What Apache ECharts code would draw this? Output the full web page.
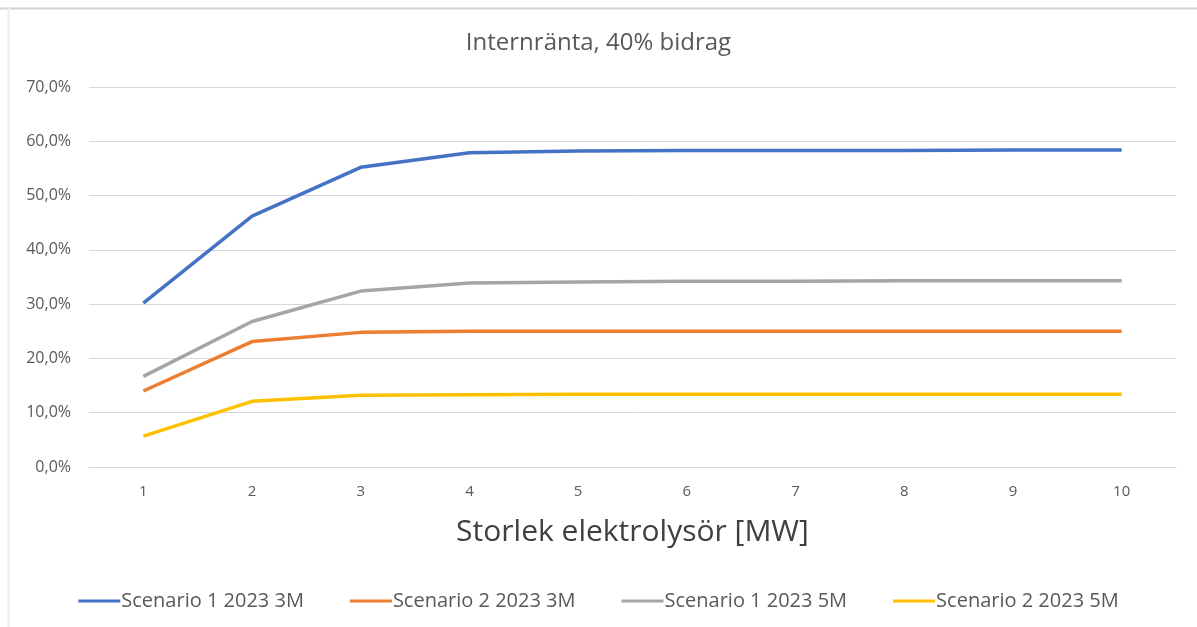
<!DOCTYPE html>
<html><head><meta charset="utf-8">
<script src="https://cdn.jsdelivr.net/npm/echarts@6/dist/echarts.min.js"></script>
<style>html,body{margin:0;padding:0;background:#fff}#c{width:1197px;height:627px}</style>
</head><body><div id="c"></div>
<script>
const categories = ['1','2','3','4','5','6','7','8','9','10'];
const seriesNames = ['Scenario 1 2023 3M','Scenario 2 2023 3M','Scenario 1 2023 5M','Scenario 2 2023 5M'];
const s1_3M = [30.2, 46.2, 55.2, 57.9, 58.2, 58.3, 58.3, 58.3, 58.4, 58.4];
const s2_3M = [14.0, 23.1, 24.8, 25.0, 25.0, 25.0, 25.0, 25.0, 25.0, 25.0];
const s1_5M = [16.7, 26.8, 32.4, 33.9, 34.1, 34.2, 34.2, 34.3, 34.3, 34.3];
const s2_5M = [5.7, 12.1, 13.2, 13.3, 13.4, 13.4, 13.4, 13.4, 13.4, 13.4];
const colors = ['#4472C4','#ED7D31','#A5A5A5','#FFC000'];
const font = 'Open Sans';
const chart = echarts.init(document.getElementById('c'));
const data = [s1_3M, s2_3M, s1_5M, s2_5M];
chart.setOption({
  animation:false,
  title:{text:'Internränta, 40% bidrag', left:'center', top:26, textStyle:{fontFamily:font,fontSize:24,fontWeight:'normal',color:'#595959'}},
  grid:{left:89, right:21, top:87, bottom:160},
  graphic:[
    {type:'line', shape:{x1:0,y1:8.5,x2:1197,y2:8.5}, style:{stroke:'#d4d4d4',lineWidth:2}},
    {type:'line', shape:{x1:8.5,y1:8,x2:8.5,y2:627}, style:{stroke:'#ededed',lineWidth:2}}
  ],
  legend:{top:586, left:'center', itemWidth:42, itemHeight:3, icon:'rect', itemGap:46,
    textStyle:{fontFamily:font,fontSize:20,color:'#595959', padding:[0,0,0,-4]}, data:seriesNames},
  xAxis:{type:'category', data:categories, boundaryGap:true,
    name:'Storlek elektrolysör [MW]', nameLocation:'middle', nameGap:50,
    nameTextStyle:{fontFamily:font,fontSize:30,color:'#404040'},
    axisLine:{lineStyle:{color:'#d9d9d9'}}, axisTick:{show:false},
    axisLabel:{fontFamily:font,fontSize:15,color:'#595959',margin:17}},
  yAxis:{type:'value', min:0, max:70, interval:10,
    axisLine:{show:false}, axisTick:{show:false},
    splitLine:{lineStyle:{color:'#d9d9d9'}},
    axisLabel:{fontFamily:font,fontSize:16,color:'#595959',margin:18,
      formatter:v=>v.toFixed(1).replace('.',',')+'%'}},
  series: data.map((d,i)=>({name:seriesNames[i], type:'line', data:d, symbol:'none',
    lineStyle:{width:3.5,color:colors[i]}, itemStyle:{color:colors[i]}}))
});
</script></body></html>
